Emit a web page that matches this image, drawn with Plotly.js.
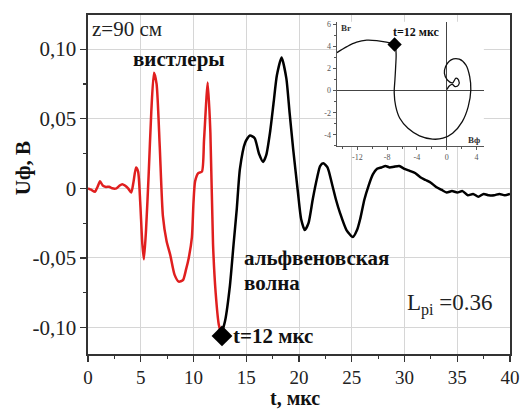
<!DOCTYPE html>
<html><head><meta charset="utf-8">
<script src="https://cdn.plot.ly/plotly-3.0.1.min.js"></script>
<style>html,body{margin:0;padding:0;background:#fff}</style>
</head><body><div id="chart" style="width:521px;height:410px"></div>
<script>
// Main signal: whistler part (red), t in µs, U in V
const tRed = [0,0.3,0.66,0.9,1.14,1.4,1.7,2.0,2.3,2.7,3.0,3.25,3.5,3.8,4.1,4.3,4.55,4.75,4.95,5.15,5.3,5.5,5.75,6.0,6.25,6.5,6.8,7.1,7.45,7.8,8.2,8.6,9.0,9.3,9.55,9.85,10.0,10.15,10.45,10.8,11.0,11.35,11.6,11.85,12.1,12.4,12.65];
const uRed = [0,-0.001,-0.0025,0.001,0.005,0.002,0.001,0.0012,0,0,0.002,0.003,0.002,0,-0.003,0.004,0.015,0.012,-0.010,-0.040,-0.051,-0.030,0.010,0.055,0.083,0.075,0.030,-0.020,-0.038,-0.048,-0.062,-0.067,-0.066,-0.058,-0.050,-0.035,-0.010,0.005,0.011,0.012,0.035,0.076,0.040,-0.040,-0.075,-0.098,-0.105];
// Alfvén wave part (black)
const tBlack = [12.65,13.0,13.45,13.8,14.1,14.4,14.9,15.35,15.8,16.2,16.6,16.9,17.25,17.6,17.9,18.35,18.8,19.1,19.45,19.9,20.2,20.55,20.9,21.3,21.7,22.0,22.3,22.7,23.1,23.5,23.9,24.5,25.1,25.5,25.8,26.2,26.6,27.0,27.4,27.8,28.2,28.6,29.0,29.5,30.0,30.5,31.0,31.5,32.0,32.5,33.0,33.5,34.0,34.5,35.0,35.5,36.0,36.5,37.0,37.5,38.0,38.5,39.0,39.5,40.0];
const uBlack = [-0.105,-0.095,-0.070,-0.040,-0.015,0.014,0.033,0.038,0.036,0.025,0.019,0.024,0.040,0.062,0.081,0.094,0.079,0.055,0.028,-0.003,-0.022,-0.030,-0.025,-0.008,0.007,0.016,0.018,0.015,0.004,-0.008,-0.018,-0.030,-0.035,-0.030,-0.022,-0.008,0.002,0.010,0.014,0.015,0.016,0.015,0.0155,0.016,0.014,0.0125,0.011,0.008,0.006,0.004,0.001,-0.001,-0.003,-0.002,-0.003,-0.002,-0.005,-0.004,-0.006,-0.004,-0.005,-0.005,-0.004,-0.005,-0.004];
const markT = [12.7];
const markU = [-0.106];
// Inset hodograph
const bPhi = [-14.75,-13.4,-12.1,-10.75,-9.4,-8.1,-7.0,-6.8,-6.85,-6.95,-7.05,-6.85,-6.3,-5.2,-3.65,-1.9,-0.5,0.8,2.1,2.9,3.25,3.1,2.6,1.7,0.6,-0.15,-0.3,0.1,0.8,1.25,1.6,1.6,1.15,0.75,0.35,0.05];
const bR = [3.42,3.96,4.36,4.54,4.5,4.36,4.15,3.4,2.2,1.0,-0.2,-1.4,-2.5,-3.4,-4.08,-4.38,-4.3,-3.85,-2.8,-1.45,0.05,1.25,2.3,2.83,2.77,2.15,1.55,0.95,0.7,1.12,0.95,0.5,0.35,0.55,0.4,0.1];
const markBphi = [-7.0];
const markBr = [4.15];
// Tick labels
const xTicks = [0,5,10,15,20,25,30,35,40];
const xTickText = ['0','5','10','15','20','25','30','35','40'];
const yTicks = [-0.10,-0.05,0,0.05,0.10];
const yTickText = ['-0,10','-0,05','0','0,05','0,10'];
const insXTicks = [-12,-8,-4,0,4];
const insXText = ['-12','-8','-4','0','4'];
const insYTicks = [-4,-2,0,2,4,6];
const insYText = ['-4','-2','0','2','4','6'];

const F = 'Liberation Serif, Times New Roman, serif';
const XR = [0,40], YR = [-0.119,0.1245];

const traces = [
  {x:tRed, y:uRed, type:'scatter', mode:'lines', line:{color:'#e01f1f', width:2.5, shape:'spline', smoothing:0.6}, hoverinfo:'skip'},
  {x:tBlack, y:uBlack, type:'scatter', mode:'lines', line:{color:'#000', width:2.5, shape:'spline', smoothing:0.6}, hoverinfo:'skip'},
  {x:markT, y:markU, type:'scatter', mode:'markers', marker:{symbol:'diamond', size:16, color:'#000'}},
  {x:bPhi, y:bR, type:'scatter', mode:'lines', line:{color:'#111', width:1.3, shape:'spline', smoothing:1}, xaxis:'x3', yaxis:'y3'},
  {x:markBphi, y:markBr, type:'scatter', mode:'markers', marker:{symbol:'diamond', size:11, color:'#000'}, xaxis:'x3', yaxis:'y3'}
];

const layout = {
  width:521, height:410,
  margin:{l:88, r:11, t:15, b:56},
  paper_bgcolor:'#fff', plot_bgcolor:'#fff',
  showlegend:false,
  font:{family:F, color:'#222'},
  xaxis:{range:XR, tickvals:xTicks, ticktext:xTickText, ticks:'outside', ticklen:6, tickwidth:1.2, tickcolor:'#333',
    showline:true, linecolor:'#333', linewidth:1.6, mirror:true, showgrid:true, gridcolor:'#d6d6d6', gridwidth:1, zeroline:false,
    minor:{dtick:2.5, ticks:'outside', ticklen:3, tickcolor:'#333', showgrid:false},
    tickfont:{family:F, size:19, color:'#222'}},
  yaxis:{range:YR, tickvals:yTicks, ticktext:yTickText, ticks:'outside', ticklen:6, tickwidth:1.2, tickcolor:'#333',
    showline:true, linecolor:'#333', linewidth:1.6, mirror:true, showgrid:true, gridcolor:'#d6d6d6', gridwidth:1, zeroline:false,
    minor:{dtick:0.025, ticks:'outside', ticklen:3, tickcolor:'#333', showgrid:false},
    tickfont:{family:F, size:21, color:'#222'}},
  xaxis2:{overlaying:'x', side:'top', anchor:'y', range:XR, tickvals:xTicks, ticks:'inside', ticklen:6, tickcolor:'#333',
    showticklabels:false, showgrid:false, showline:false, zeroline:false,
    minor:{dtick:2.5, ticks:'inside', ticklen:3, tickcolor:'#333', showgrid:false}},
  yaxis2:{overlaying:'y', side:'right', anchor:'x', range:YR, tickvals:yTicks, ticks:'inside', ticklen:6, tickcolor:'#333',
    showticklabels:false, showgrid:false, showline:false, zeroline:false,
    minor:{dtick:0.025, ticks:'inside', ticklen:3, tickcolor:'#333', showgrid:false}},
  xaxis3:{domain:[0.589,0.938], anchor:'y3', range:[-14.8,5], tickvals:insXTicks, ticktext:insXText,
    ticks:'outside', ticklen:3, tickcolor:'#555', showline:true, linecolor:'#555', linewidth:1,
    showgrid:false, zeroline:true, zerolinecolor:'#444', zerolinewidth:1,
    minor:{dtick:2, ticks:'outside', ticklen:2, tickcolor:'#555'},
    tickfont:{family:F, size:8, color:'#555'}},
  yaxis3:{domain:[0.6136,0.98], anchor:'x3', range:[-5,6.2], tickvals:insYTicks, ticktext:insYText,
    ticks:'outside', ticklen:3, tickcolor:'#555', showline:true, linecolor:'#555', linewidth:1,
    showgrid:false, zeroline:true, zerolinecolor:'#444', zerolinewidth:1,
    minor:{dtick:1, ticks:'outside', ticklen:2, tickcolor:'#555'},
    tickfont:{family:F, size:8, color:'#555'}},
  shapes:[{type:'rect', xref:'paper', yref:'paper', x0:0.533, x1:0.998, y0:0.563, y1:0.998,
    fillcolor:'#fff', line:{width:0}, layer:'between'}],
  annotations:[
    {x:0.49, y:-0.1298, xref:'paper', yref:'paper', text:'<b>t, мкс</b>', showarrow:false, xanchor:'center', yanchor:'middle', font:{family:F, size:20, color:'#111'}},
    {x:-0.155, y:0.547, xref:'paper', yref:'paper', text:'<b>Uф, B</b>', textangle:-90, showarrow:false, xanchor:'center', yanchor:'middle', font:{family:F, size:21, color:'#111'}},
    {x:0.2, y:0.1143, xref:'x', yref:'y', text:'z=90 см', showarrow:false, xanchor:'left', yanchor:'middle', font:{family:F, size:21, color:'#222'}},
    {x:8.63, y:0.0928, xref:'x', yref:'y', text:'<b>вистлеры</b>', showarrow:false, xanchor:'center', yanchor:'middle', font:{family:F, size:21, color:'#111'}},
    {x:14.6, y:-0.0503, xref:'x', yref:'y', text:'<b>альфвеновская</b>', showarrow:false, xanchor:'left', yanchor:'middle', font:{family:F, size:21, color:'#111'}},
    {x:14.6, y:-0.0683, xref:'x', yref:'y', text:'<b>волна</b>', showarrow:false, xanchor:'left', yanchor:'middle', font:{family:F, size:21, color:'#111'}},
    {x:13.6, y:-0.1064, xref:'x', yref:'y', text:'<b>t=12 мкс</b>', showarrow:false, xanchor:'left', yanchor:'middle', font:{family:F, size:21, color:'#111'}},
    {x:30.0, y:-0.0835, xref:'x', yref:'y', text:'L<sub>pi</sub> =0.36', showarrow:false, xanchor:'left', yanchor:'middle', font:{family:F, size:23, color:'#222'}},
    {x:-4.04, y:5.29, xref:'x3', yref:'y3', text:'<b>t=12 мкс</b>', showarrow:false, xanchor:'center', yanchor:'middle', font:{family:F, size:12, color:'#111'}},
    {x:-14.5, y:5.65, xref:'x3', yref:'y3', text:'<b>Br</b>', showarrow:false, xanchor:'left', yanchor:'middle', font:{family:F, size:9, color:'#333'}},
    {x:3.7, y:-4.44, xref:'x3', yref:'y3', text:'<b>Bф</b>', showarrow:false, xanchor:'center', yanchor:'middle', font:{family:F, size:9, color:'#333'}}
  ]
};
Plotly.newPlot('chart', traces, layout, {staticPlot:true, displayModeBar:false});
</script></body></html>
